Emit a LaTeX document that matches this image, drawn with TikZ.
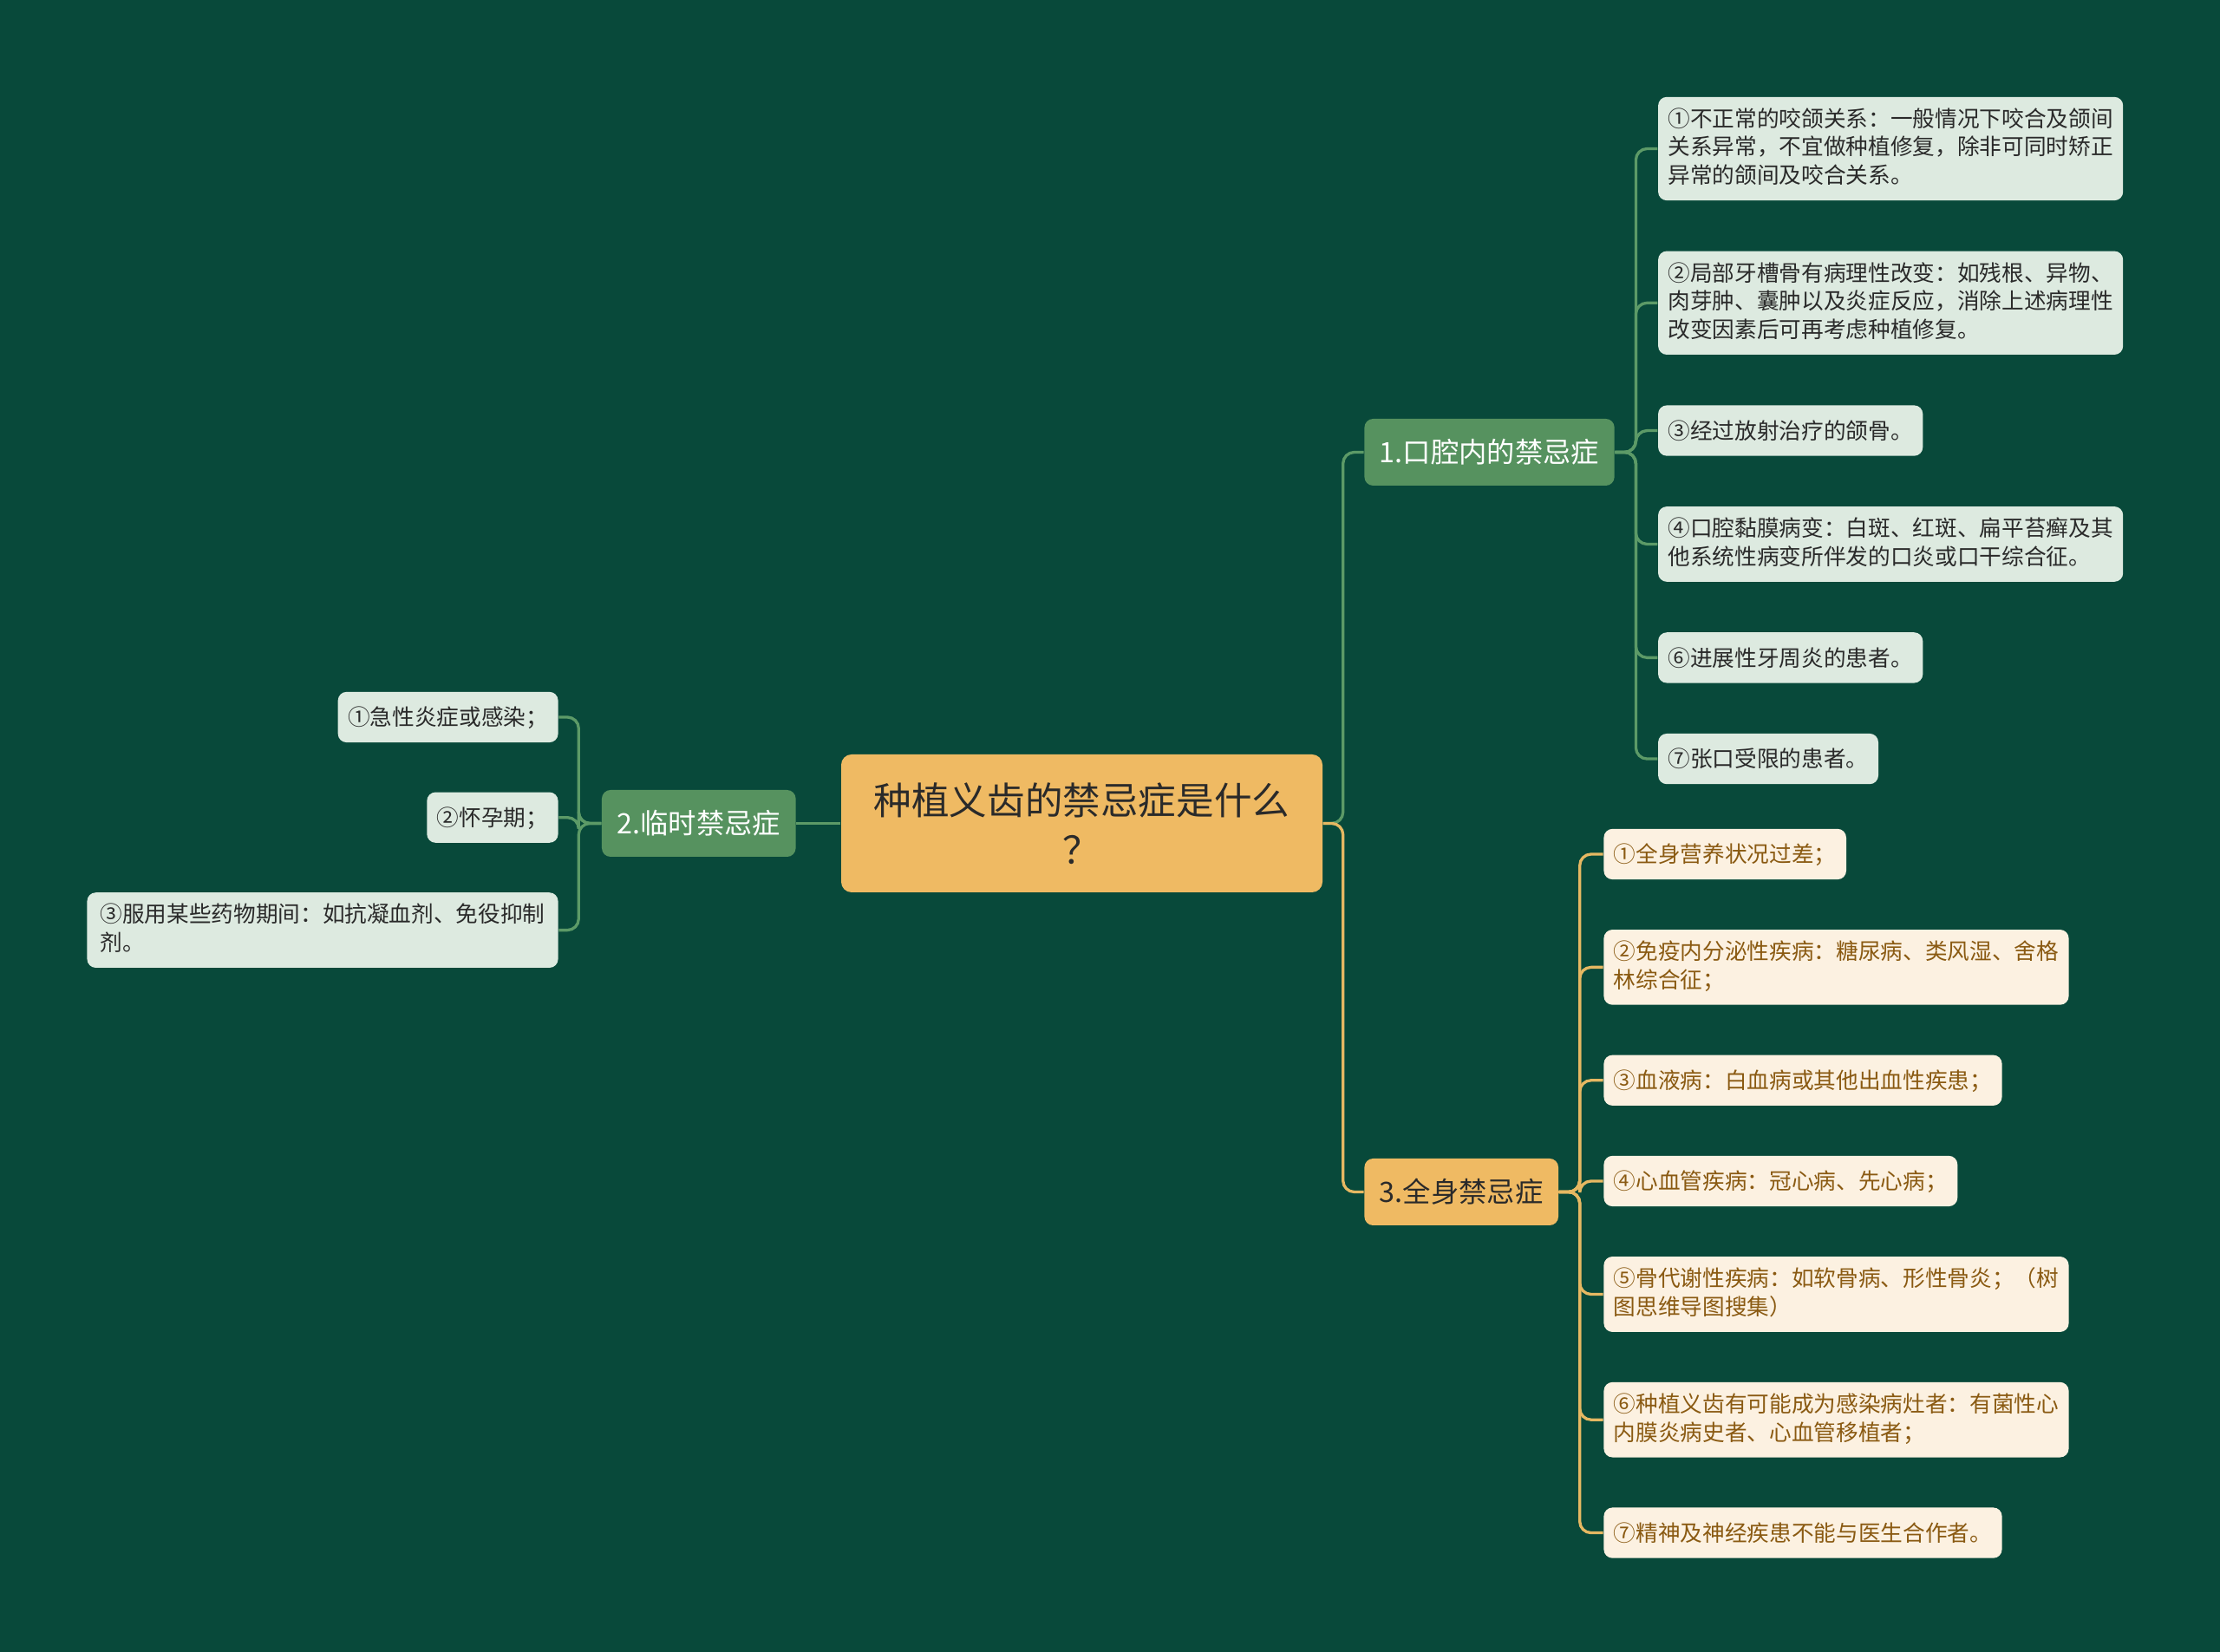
\documentclass[tikz,border=0pt]{standalone}
\usepackage{fontspec}
\setmainfont{Noto Sans CJK SC}
\usepackage{tikz}
\usetikzlibrary{positioning}
\definecolor{boardgreen}{HTML}{08493A}
\definecolor{branchgreen}{HTML}{56925F}
\definecolor{paleleaf}{HTML}{DDEAE0}
\definecolor{honey}{HTML}{EFBA63}
\definecolor{cream}{HTML}{FCF1E1}
\definecolor{brownink}{HTML}{8A5A12}
\definecolor{darkink}{HTML}{2A2A2A}
\definecolor{wiregreen}{HTML}{5C9A67}
\definecolor{wiregold}{HTML}{E6B862}
\newcommand{\leafstrut}{\rule[-1.9pt]{0pt}{9.3pt}}

\begin{document}
\begin{tikzpicture}[
  rootbox/.style={fill=honey,rounded corners=1.2mm,minimum width=55.5mm,minimum height=15.9mm,align=center,text=darkink,inner sep=0pt,font=\fontsize{12.4pt}{16.2pt}\selectfont},
  branch/.style={rounded corners=1mm,minimum height=7.7mm,inner xsep=1.75mm,inner ysep=0pt,font=\fontsize{9.2pt}{12pt}\selectfont},
  branchg/.style={branch,fill=branchgreen,text=white},
  branchy/.style={branch,fill=honey,text=darkink},
  leaf/.style={rounded corners=1mm,inner xsep=1.15mm,inner ysep=1.28mm,align=left,font=\fontsize{7.3pt}{9.3pt}\selectfont,execute at begin node=\leafstrut,execute at end node=\leafstrut},
  leafg/.style={leaf,fill=paleleaf,text=darkink},
  leafy/.style={leaf,fill=cream,text=brownink},
  gline/.style={draw=wiregreen,line width=0.33mm,rounded corners=1.3mm},
  yline/.style={draw=wiregold,line width=0.33mm,rounded corners=1.3mm}
]
\fill[boardgreen] (0,0) rectangle (25.6,19.05);

\node[rootbox] (root) at (12.475,9.555) {种植义齿的禁忌症是什么\\？};

\node[branchg] (b1) [above right=42.8mm and 4.7mm of root.east, anchor=west] {1.口腔内的禁忌症};
\node[branchg] (b2) [left=5.1mm of root] {2.临时禁忌症};
\node[branchy] (b3) [below right=42.5mm and 4.7mm of root.east, anchor=west] {3.全身禁忌症};

\coordinate[right=2.3mm of root.east] (j0);
\coordinate[right=2.4mm of b1.east] (j1);
\coordinate[left=2.6mm of b2.west] (j2);
\coordinate[right=2.4mm of b3.east] (j3);

\draw[gline] (root.east) -- (j0) |- (b1.west);
\draw[yline] (root.east) -- (j0) |- (b3.west);
\draw[gline] (root.west) -- (b2.east);

% 1. oral
\node[leafg] (o1) [above right=35mm and 4.9mm of b1.east, anchor=west] {①不正常的咬颌关系：一般情况下咬合及颌间\\关系异常，不宜做种植修复，除非可同时矫正\\异常的颌间及咬合关系。};
\node[leafg] (o2) [below=5.7mm of o1.south west, anchor=north west] {②局部牙槽骨有病理性改变：如残根、异物、\\肉芽肿、囊肿以及炎症反应，消除上述病理性\\改变因素后可再考虑种植修复。};
\node[leafg] (o3) [below=5.7mm of o2.south west, anchor=north west] {③经过放射治疗的颌骨。};
\node[leafg] (o4) [below=5.7mm of o3.south west, anchor=north west] {④口腔黏膜病变：白斑、红斑、扁平苔癣及其\\他系统性病变所伴发的口炎或口干综合征。};
\node[leafg] (o6) [below=5.7mm of o4.south west, anchor=north west] {⑥进展性牙周炎的患者。};
\node[leafg] (o7) [below=5.7mm of o6.south west, anchor=north west] {⑦张口受限的患者。};
\draw[gline] (b1.east) -- (j1) |- (o1.west);
\draw[gline] (b1.east) -- (j1) |- (o2.west);
\draw[gline] (b1.east) -- (j1) |- (o3.west);
\draw[gline] (b1.east) -- (j1) |- (o4.west);
\draw[gline] (b1.east) -- (j1) |- (o6.west);
\draw[gline] (b1.east) -- (j1) |- (o7.west);

% 2. temporary
\node[leafg] (t1) [above left=12.25mm and 4.9mm of b2.west, anchor=east] {①急性炎症或感染；};
\node[leafg] (t2) [below=5.6mm of t1.south east, anchor=north east] {②怀孕期；};
\node[leafg,inner xsep=1.5mm] (t3) [below=5.6mm of t2.south east, anchor=north east] {③服用某些药物期间：如抗凝血剂、免役抑制\\剂。};
\draw[gline] (b2.west) -- (j2) |- (t1.east);
\draw[gline] (b2.west) -- (j2) |- (t2.east);
\draw[gline] (b2.west) -- (j2) |- (t3.east);

% 3. systemic
\node[leafy] (s1) [above right=38.95mm and 5.1mm of b3.east, anchor=west] {①全身营养状况过差；};
\node[leafy] (s2) [below=5.65mm of s1.south west, anchor=north west] {②免疫内分泌性疾病：糖尿病、类风湿、舍格\\林综合征；};
\node[leafy] (s3) [below=5.65mm of s2.south west, anchor=north west] {③血液病：白血病或其他出血性疾患；};
\node[leafy] (s4) [below=5.65mm of s3.south west, anchor=north west] {④心血管疾病：冠心病、先心病；};
\node[leafy] (s5) [below=5.65mm of s4.south west, anchor=north west] {⑤骨代谢性疾病：如软骨病、形性骨炎；（树\\图思维导图搜集）};
\node[leafy] (s6) [below=5.65mm of s5.south west, anchor=north west] {⑥种植义齿有可能成为感染病灶者：有菌性心\\内膜炎病史者、心血管移植者；};
\node[leafy] (s7) [below=5.65mm of s6.south west, anchor=north west] {⑦精神及神经疾患不能与医生合作者。};
\draw[yline] (b3.east) -- (j3) |- (s1.west);
\draw[yline] (b3.east) -- (j3) |- (s2.west);
\draw[yline] (b3.east) -- (j3) |- (s3.west);
\draw[yline] (b3.east) -- (j3) |- (s4.west);
\draw[yline] (b3.east) -- (j3) |- (s5.west);
\draw[yline] (b3.east) -- (j3) |- (s6.west);
\draw[yline] (b3.east) -- (j3) |- (s7.west);
\end{tikzpicture}
\end{document}
